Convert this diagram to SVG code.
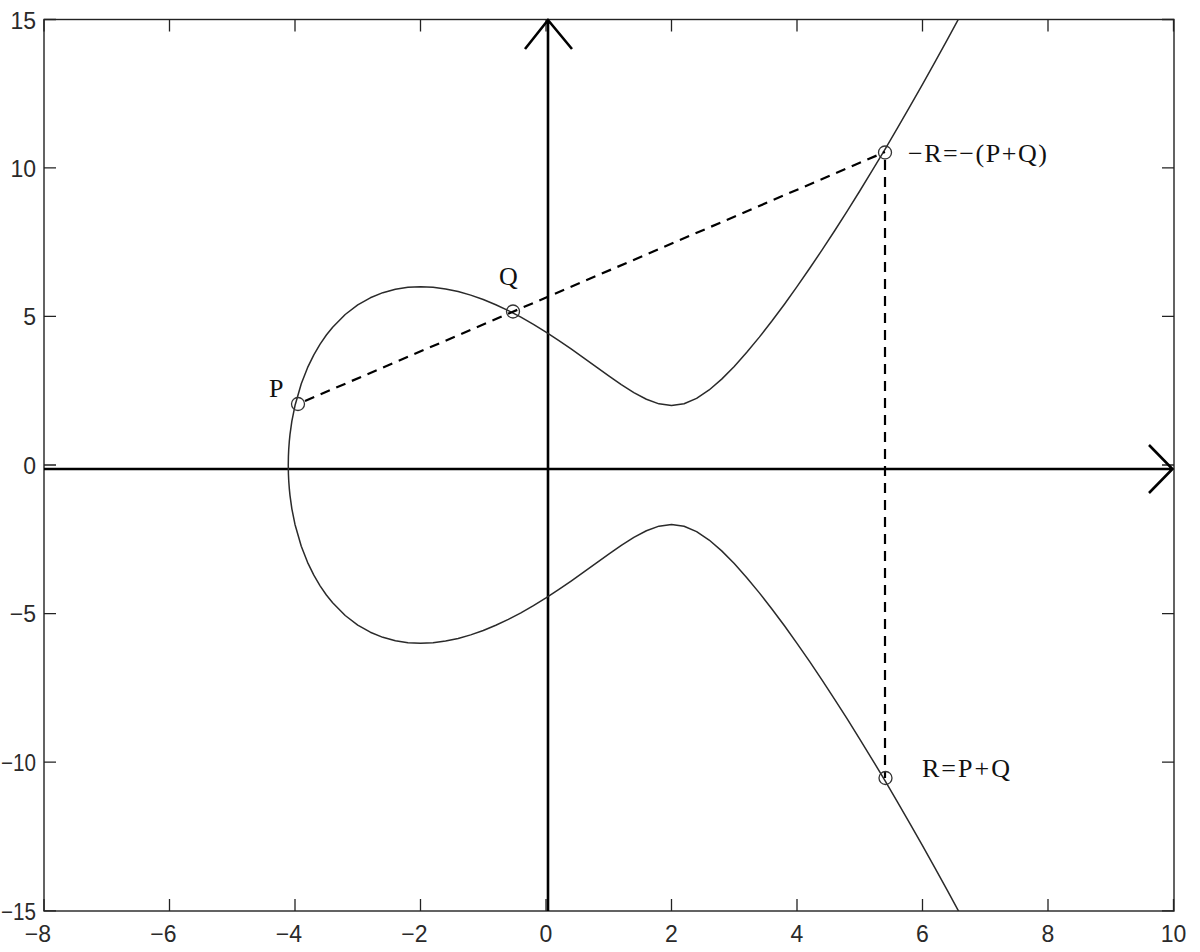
<svg xmlns="http://www.w3.org/2000/svg" width="1200" height="952" viewBox="0 0 1200 952">
<style>
.frame{fill:none;stroke:#222;stroke-width:1.4}
.tick{stroke:#222;stroke-width:1.3}
.tl{font-family:"Liberation Sans",Arial,sans-serif;font-size:23px;fill:#2a2a2a}
.axis{fill:none;stroke:#000;stroke-width:2.6;stroke-linejoin:miter}
.curve{fill:none;stroke:#2a2a2a;stroke-width:1.5;stroke-linejoin:round}
.dash{fill:none;stroke:#000;stroke-width:2.2;stroke-dasharray:10 7}
.pt{fill:none;stroke:#333;stroke-width:1.3}
.lbl{font-family:"Liberation Serif","Times New Roman",serif;font-size:26px;fill:#111}
</style>
<defs>
<clipPath id="plot"><rect x="44" y="19.5" width="1130" height="891.5"/></clipPath>
</defs>
<rect width="1200" height="952" fill="#fff"/>
<g id="frame">
<rect class="frame" x="44" y="19.5" width="1130" height="891.5"/>
<g class="tick">
<path d="M44 911v-12M169.5 911v-12M295 911v-12M420.5 911v-12M546 911v-12M671.5 911v-12M797 911v-12M922.5 911v-12M1048 911v-12M1173.5 911v-12"/>
<path d="M44 19.5v12M169.5 19.5v12M295 19.5v12M420.5 19.5v12M546 19.5v12M671.5 19.5v12M797 19.5v12M922.5 19.5v12M1048 19.5v12M1173.5 19.5v12"/>
<path d="M44 19.5h12M44 167.8h12M44 316.4h12M44 465h12M44 613.6h12M44 762.2h12M44 910.8h12"/>
<path d="M1174 19.5h-12M1174 167.8h-12M1174 316.4h-12M1174 465h-12M1174 613.6h-12M1174 762.2h-12M1174 910.8h-12"/>
</g>
</g>
<g id="ylabels" class="tl" text-anchor="end">
<text x="36" y="29">15</text>
<text x="36" y="177">10</text>
<text x="36" y="325">5</text>
<text x="36" y="474">0</text>
<text x="36" y="622">−5</text>
<text x="36" y="771" textLength="35" lengthAdjust="spacingAndGlyphs">−10</text>
<text x="36" y="920" textLength="35" lengthAdjust="spacingAndGlyphs">−15</text>
</g>
<g id="xlabels" class="tl">
<text x="51" y="942" text-anchor="end">−8</text>
<text x="176.5" y="942" text-anchor="end">−6</text>
<text x="302" y="942" text-anchor="end">−4</text>
<text x="427.5" y="942" text-anchor="end">−2</text>
<text x="546" y="942" text-anchor="middle">0</text>
<text x="671.5" y="942" text-anchor="middle">2</text>
<text x="797" y="942" text-anchor="middle">4</text>
<text x="922.5" y="942" text-anchor="middle">6</text>
<text x="1048" y="942" text-anchor="middle">8</text>
<text x="1173.5" y="942" text-anchor="middle">10</text>
</g>
<g id="axes">
<path class="axis" d="M548 911V20M525 49L548 20L572 49"/>
<path class="axis" d="M44 469H1172.5M1149 445L1172.5 469L1149 493"/>
</g>
<g id="curve" clip-path="url(#plot)">
<g transform="translate(546,465) scale(62.75,-29.72)">
<path class="curve" vector-effect="non-scaling-stroke" d="M6.6 -15.109 L6.4 -14.330 6.2 -13.562 6 -12.806 5.8 -12.063 5.6 -11.332 5.4 -10.614 5.2 -9.910 5 -9.220 4.8 -8.544 4.6 -7.883 4.4 -7.238 4.2 -6.610 4 -6 3.8 -5.410 3.6 -4.843 3.4 -4.302 3.2 -3.791 3 -3.317 2.8 -2.890 2.6 -2.525 2.4 -2.241 2.2 -2.061 2 -2 1.8 -2.057 1.6 -2.213 1.4 -2.438 1.2 -2.707 1 -3 0.8 -3.303 0.6 -3.608 0.4 -3.907 0.2 -4.196 0 -4.472 -0.2 -4.732 -0.4 -4.974 -0.6 -5.195 -0.8 -5.393 -1 -5.568 -1.2 -5.716 -1.4 -5.836 -1.6 -5.925 -1.8 -5.981 -2 -6 -2.2 -5.979 -2.4 -5.914 -2.6 -5.799 -2.8 -5.626 -3 -5.385 -3.2 -5.063 -3.4 -4.636 -3.5 -4.373 -3.6 -4.067 -3.7 -3.708 -3.8 -3.275 -3.9 -2.735 -4 -2 -4.05 -1.473 -4.08 -1.021 -4.09 -0.814 -4.1 -0.528 -4.105 -0.293 -4.1072 0 -4.105 0.293 -4.1 0.528 -4.09 0.814 -4.08 1.021 -4.05 1.473 -4 2 -3.9 2.735 -3.8 3.275 -3.7 3.708 -3.6 4.067 -3.5 4.373 -3.4 4.636 -3.2 5.063 -3 5.385 -2.8 5.626 -2.6 5.799 -2.4 5.914 -2.2 5.979 -2 6 -1.8 5.981 -1.6 5.925 -1.4 5.836 -1.2 5.716 -1 5.568 -0.8 5.393 -0.6 5.195 -0.4 4.974 -0.2 4.732 0 4.472 0.2 4.196 0.4 3.907 0.6 3.608 0.8 3.303 1 3 1.2 2.707 1.4 2.438 1.6 2.213 1.8 2.057 2 2 2.2 2.061 2.4 2.241 2.6 2.525 2.8 2.890 3 3.317 3.2 3.791 3.4 4.302 3.6 4.843 3.8 5.410 4 6 4.2 6.610 4.4 7.238 4.6 7.883 4.8 8.544 5 9.220 5.2 9.910 5.4 10.614 5.6 11.332 5.8 12.063 6 12.806 6.2 13.562 6.4 14.330 6.6 15.109"/>
</g>
</g>
<g id="connectors">
<line class="dash" x1="305" y1="401" x2="885" y2="152"/>
<line class="dash" x1="885" y1="160" x2="885" y2="778"/>
</g>
<g id="node-P">
<circle class="pt" cx="298" cy="404" r="6.5"/>
<text class="lbl" x="269" y="397">P</text>
</g>
<g id="node-Q">
<circle class="pt" cx="513" cy="311.5" r="6.5"/>
<text class="lbl" x="499" y="285">Q</text>
</g>
<g id="node-negR">
<circle class="pt" cx="885" cy="152.5" r="6.5"/>
<text class="lbl" x="908" y="162" textLength="139" lengthAdjust="spacing">−R=−(P+Q)</text>
</g>
<g id="node-R">
<circle class="pt" cx="885.5" cy="778" r="6.5"/>
<text class="lbl" x="922" y="777" textLength="88" lengthAdjust="spacing">R=P+Q</text>
</g>
</svg>
